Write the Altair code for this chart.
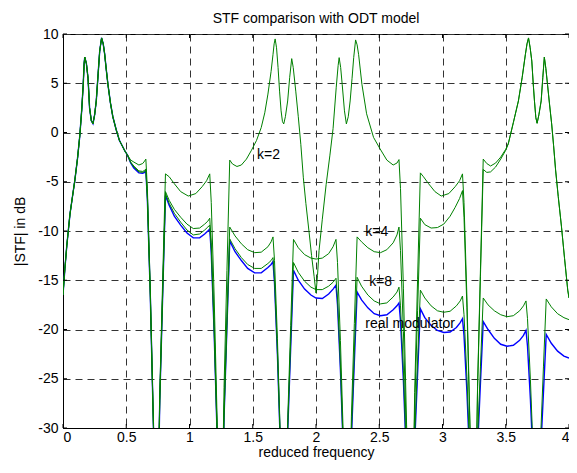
import altair as alt
import pandas as pd

# ---- data ----
head = [(0.0, -16.5), (0.015, -13.8), (0.03, -11.5), (0.055, -8.3), (0.075, -6.5), (0.094, -4.8),
        (0.115, -2.6), (0.133, -0.3), (0.148, 2.3), (0.16, 4.9), (0.167, 7.0), (0.172, 7.65),
        (0.185, 7.0), (0.198, 5.5), (0.21, 2.5), (0.224, 1.2), (0.237, 0.9), (0.25, 1.8),
        (0.263, 3.2), (0.278, 6.0), (0.29, 8.25), (0.305, 9.6), (0.318, 9.0), (0.329, 8.0),
        (0.342, 6.4), (0.355, 4.9), (0.375, 3.0), (0.394, 1.6), (0.42, 0.3), (0.446, -0.8),
        (0.47, -1.4), (0.49, -1.9), (0.51, -2.3)]

k2 = [(0.535, -2.8), (0.56, -3.0), (0.6, -3.3), (0.63, -3.15), (0.645, -2.9), (0.655, -2.7),
      (0.667, -5.7), (0.69, -15.8), (0.715, -29.6), (0.74, -40), (0.748, -40), (0.765, -26.4), (0.788, -14.9), (0.81, -4.2),
      (0.84, -4.5), (0.88, -5.2), (0.93, -6.0), (0.99, -6.45), (1.05, -6.2), (1.1, -5.5), (1.135, -4.9), (1.16, -4.2),
      (1.172, -7.1), (1.195, -16.7), (1.22, -30.0), (1.245, -40), (1.256, -40), (1.273, -25.9), (1.296, -14.0), (1.318, -2.8),
      (1.34, -3.2), (1.375, -3.45), (1.41, -3.3), (1.45, -2.7), (1.49, -1.8), (1.53, -0.8), (1.567, 0.5), (1.595, 2.0),
      (1.62, 3.9), (1.645, 6.2), (1.66, 7.9), (1.669, 9.0), (1.677, 9.5), (1.688, 8.6), (1.7, 6.6), (1.712, 4.2),
      (1.724, 2.2), (1.735, 1.1), (1.745, 0.87), (1.758, 1.6), (1.776, 3.2), (1.792, 5.6), (1.808, 7.5), (1.82, 6.6),
      (1.84, 4.2), (1.86, 1.6), (1.88, -1.2), (1.9, -4.6), (1.92, -7.2), (1.946, -10.2), (1.965, -12.5), (1.985, -14.6),
      (2.0, -16.3), (2.012, -14.5), (2.024, -12.0), (2.05, -8.8), (2.08, -5.3), (2.11, -2.3), (2.135, 0.4), (2.16, 4.6),
      (2.175, 6.8), (2.183, 7.6), (2.195, 6.6), (2.207, 4.9), (2.225, 2.2), (2.24, 0.87), (2.255, 1.6), (2.27, 3.2),
      (2.285, 5.5), (2.298, 7.6), (2.313, 9.4), (2.325, 8.9), (2.337, 7.9), (2.363, 4.9), (2.4, 1.9), (2.455, -0.5),
      (2.506, -1.65), (2.56, -2.8), (2.61, -3.3), (2.64, -3.1), (2.656, -2.75),
      (2.668, -5.7), (2.691, -15.8), (2.716, -29.6), (2.741, -40), (2.763, -40), (2.78, -26.4), (2.803, -14.9), (2.825, -4.1),
      (2.85, -4.5), (2.89, -5.2), (2.94, -6.0), (2.99, -6.45), (3.05, -6.2), (3.1, -5.5), (3.135, -4.9), (3.158, -4.2),
      (3.17, -7.1), (3.193, -16.7), (3.218, -30.0), (3.243, -40), (3.26, -40), (3.277, -25.8), (3.3, -13.9), (3.322, -2.7),
      (3.35, -3.15), (3.38, -3.4), (3.42, -3.1), (3.46, -2.5), (3.5, -1.7), (3.52, -1.15), (3.56, 1.0), (3.6, 3.2),
      (3.63, 5.6), (3.655, 7.9), (3.668, 9.0), (3.68, 9.6), (3.693, 8.6), (3.706, 7.25), (3.717, 5.0), (3.727, 3.2),
      (3.738, 1.5), (3.748, 0.94), (3.762, 1.8), (3.78, 3.2), (3.793, 5.6), (3.805, 7.65), (3.817, 6.5), (3.83, 4.9),
      (3.845, 3.0), (3.863, 0.87), (3.878, -1.3), (3.894, -3.8), (3.915, -6.5), (3.94, -9.5), (3.965, -12.8),
      (3.99, -16.0), (4.0, -16.8)]

k4 = [(0.535, -3.0), (0.56, -3.4), (0.6, -3.9), (0.63, -3.95), (0.645, -3.85), (0.655, -3.7),
      (0.667, -6.6), (0.69, -16.4), (0.715, -29.8), (0.74, -40), (0.748, -40), (0.765, -27.1), (0.788, -16.2), (0.81, -6.0),
      (0.84, -6.9), (0.88, -7.8), (0.93, -8.6), (0.98, -9.3), (1.03, -9.75), (1.08, -9.7), (1.12, -9.3), (1.145, -9.0), (1.16, -8.7),
      (1.172, -11.2), (1.195, -19.7), (1.22, -31.2), (1.245, -40), (1.256, -40), (1.273, -28.4), (1.296, -18.7), (1.318, -9.6),
      (1.36, -10.5), (1.41, -11.3), (1.46, -11.9), (1.515, -12.2), (1.567, -12.15), (1.62, -11.6), (1.645, -11.1), (1.66, -10.6),
      (1.672, -13.0), (1.695, -20.9), (1.72, -31.8), (1.745, -40), (1.76, -40), (1.777, -28.9), (1.8, -19.6), (1.822, -10.85),
      (1.86, -11.7), (1.91, -12.4), (1.96, -12.75), (2.0, -12.85), (2.05, -12.75), (2.1, -12.3), (2.135, -11.6), (2.158, -10.85),
      (2.17, -13.2), (2.193, -21.1), (2.218, -31.8), (2.243, -40), (2.263, -40), (2.28, -28.8), (2.303, -19.4), (2.325, -10.6),
      (2.36, -11.1), (2.41, -11.7), (2.46, -12.1), (2.51, -12.2), (2.56, -11.9), (2.61, -11.2), (2.64, -10.4), (2.656, -9.6),
      (2.668, -12.0), (2.691, -20.2), (2.716, -31.5), (2.741, -40), (2.763, -40), (2.78, -28.1), (2.803, -18.1), (2.825, -8.7),
      (2.86, -9.35), (2.91, -9.7), (2.96, -9.65), (3.01, -9.3), (3.06, -8.5), (3.1, -7.6), (3.135, -6.7), (3.158, -5.9),
      (3.17, -8.6), (3.193, -17.8), (3.218, -30.5), (3.243, -40), (3.26, -40), (3.277, -26.2), (3.3, -14.6), (3.322, -3.75),
      (3.35, -4.05), (3.38, -4.0), (3.42, -3.5), (3.46, -2.7), (3.5, -1.8), (3.52, -1.15), (3.56, 1.0), (3.6, 3.2),
      (3.63, 5.6), (3.655, 7.9), (3.668, 9.0), (3.68, 9.6), (3.693, 8.6), (3.706, 7.25), (3.717, 5.0), (3.727, 3.2),
      (3.738, 1.5), (3.748, 0.94), (3.762, 1.8), (3.78, 3.2), (3.793, 5.6), (3.805, 7.65), (3.817, 6.5), (3.83, 4.9),
      (3.845, 3.0), (3.863, 0.87), (3.878, -1.3), (3.894, -3.8), (3.915, -6.5), (3.94, -9.5), (3.965, -12.8),
      (3.99, -16.0), (4.0, -16.8)]

k8 = [(0.535, -3.05), (0.56, -3.5), (0.6, -4.0), (0.63, -4.05), (0.645, -3.95), (0.655, -3.8),
      (0.667, -6.7), (0.69, -16.5), (0.715, -29.9), (0.74, -40), (0.748, -40), (0.765, -27.2), (0.788, -16.3), (0.81, -6.2),
      (0.84, -7.2), (0.88, -8.2), (0.93, -9.1), (0.98, -9.9), (1.03, -10.4), (1.08, -10.3), (1.12, -9.9), (1.145, -9.6), (1.16, -9.4),
      (1.172, -11.8), (1.195, -20.1), (1.22, -31.4), (1.245, -40), (1.256, -40), (1.273, -28.9), (1.296, -19.6), (1.318, -10.8),
      (1.36, -11.8), (1.41, -12.7), (1.46, -13.4), (1.515, -13.8), (1.567, -13.8), (1.62, -13.3), (1.645, -13.0), (1.66, -12.7),
      (1.672, -14.9), (1.695, -22.3), (1.72, -32.4), (1.745, -40), (1.76, -40), (1.777, -29.8), (1.8, -21.2), (1.822, -13.2),
      (1.86, -14.2), (1.91, -15.1), (1.96, -15.7), (2.0, -15.95), (2.05, -15.95), (2.1, -15.6), (2.135, -15.2), (2.158, -14.8),
      (2.17, -16.8), (2.193, -23.6), (2.218, -33.0), (2.243, -40), (2.263, -40), (2.28, -30.4), (2.303, -22.3), (2.325, -14.7),
      (2.36, -15.6), (2.41, -16.5), (2.46, -17.1), (2.51, -17.4), (2.56, -17.3), (2.61, -16.7), (2.64, -16.2), (2.656, -15.7),
      (2.668, -17.6), (2.691, -24.2), (2.716, -33.2), (2.741, -40), (2.763, -40), (2.78, -30.9), (2.803, -23.2), (2.825, -16.0),
      (2.86, -16.8), (2.91, -17.6), (2.96, -18.1), (3.01, -18.25), (3.06, -18.15), (3.11, -17.6), (3.14, -17.1), (3.158, -16.6),
      (3.17, -18.5), (3.193, -24.8), (3.218, -33.4), (3.243, -40), (3.26, -40), (3.277, -31.2), (3.3, -23.8), (3.322, -16.8),
      (3.36, -17.5), (3.41, -18.1), (3.46, -18.5), (3.51, -18.7), (3.56, -18.6), (3.61, -18.1), (3.64, -17.6), (3.66, -17.1),
      (3.672, -18.9), (3.695, -25.1), (3.72, -33.6), (3.745, -40), (3.758, -40), (3.775, -31.2), (3.798, -23.8), (3.82, -16.9),
      (3.86, -17.7), (3.91, -18.4), (3.96, -18.8), (4.0, -19.0)]

real = [(0.535, -3.1), (0.56, -3.6), (0.6, -4.1), (0.63, -4.15), (0.645, -4.05), (0.655, -3.9),
        (0.667, -6.8), (0.69, -16.5), (0.715, -29.9), (0.74, -40), (0.748, -40), (0.765, -27.2), (0.788, -16.5), (0.81, -6.4),
        (0.84, -7.4), (0.88, -8.5), (0.93, -9.4), (0.98, -10.2), (1.03, -10.7), (1.08, -10.7), (1.12, -10.3), (1.145, -10.0), (1.16, -9.8),
        (1.172, -12.2), (1.195, -20.4), (1.22, -31.5), (1.245, -40), (1.256, -40), (1.273, -29.0), (1.296, -19.7), (1.318, -11.0),
        (1.36, -12.1), (1.41, -13.0), (1.46, -13.8), (1.515, -14.25), (1.567, -14.25), (1.62, -13.7), (1.645, -13.4), (1.66, -13.1),
        (1.672, -15.3), (1.695, -22.5), (1.72, -32.5), (1.745, -40), (1.76, -40), (1.777, -30.1), (1.8, -21.8), (1.822, -14.0),
        (1.86, -15.0), (1.91, -15.9), (1.96, -16.5), (2.0, -16.8), (2.05, -16.85), (2.1, -16.4), (2.135, -15.9), (2.158, -15.5),
        (2.17, -17.5), (2.193, -24.1), (2.218, -33.1), (2.243, -40), (2.263, -40), (2.28, -31.0), (2.303, -23.3), (2.325, -16.2),
        (2.36, -17.0), (2.41, -17.8), (2.46, -18.4), (2.51, -18.6), (2.56, -18.5), (2.61, -18.0), (2.64, -17.6), (2.656, -17.3),
        (2.668, -19.1), (2.691, -25.2), (2.716, -33.6), (2.741, -40), (2.763, -40), (2.78, -31.6), (2.803, -24.5), (2.825, -17.9),
        (2.86, -18.8), (2.91, -19.6), (2.96, -20.1), (3.01, -20.3), (3.06, -20.25), (3.11, -19.8), (3.14, -19.3), (3.158, -18.9),
        (3.17, -20.6), (3.193, -26.3), (3.218, -34.1), (3.243, -40), (3.26, -40), (3.277, -32.1), (3.3, -25.4), (3.322, -19.2),
        (3.36, -20.0), (3.41, -20.9), (3.46, -21.5), (3.51, -21.7), (3.56, -21.6), (3.61, -21.1), (3.64, -20.6), (3.66, -20.1),
        (3.672, -21.7), (3.695, -27.1), (3.72, -34.4), (3.745, -40), (3.758, -40), (3.775, -32.6), (3.798, -26.4), (3.82, -20.5),
        (3.86, -21.4), (3.91, -22.2), (3.96, -22.7), (4.0, -22.9)]

label_text = ["k=2", "k=4", "k=8", "real modulator"]
label_x = [1.534, 2.39, 2.42, 2.39]
label_y = [-2.65, -10.5, -15.6, -19.8]

x_ticks = [0, 0.5, 1, 1.5, 2, 2.5, 3, 3.5, 4]
y_ticks = [-30, -25, -20, -15, -10, -5, 0, 5, 10]

# ---- build tables ----
rows = []
for name, pts in [("real", real), ("k8", k8), ("k4", k4), ("k2", k2)]:
    for i, (x, y) in enumerate(head + pts):
        rows.append({"series": name, "i": i, "x": x, "y": y})
df = pd.DataFrame(rows)
labels = pd.DataFrame({"x": label_x, "y": label_y, "t": label_text})
xt = pd.DataFrame({"x": x_ticks})
yt = pd.DataFrame({"y": y_ticks})

W, H = 506, 394
FONT = "Liberation Sans"
FS = 14

xscale = alt.Scale(domain=[0, 4], nice=False, zero=False)
yscale = alt.Scale(domain=[-30, 10], nice=False, zero=False)
common_axis = dict(grid=True, gridDash=[7, 5], gridColor="#333333", gridWidth=1,
                   ticks=False, domainColor="black",
                   labelFont=FONT, labelFontSize=FS, labelColor="black",
                   titleFont=FONT, titleFontSize=FS, titleFontWeight="normal", titleColor="black",
                   titleBaseline="alphabetic", titleAnchor="middle")
xaxis = alt.Axis(values=x_ticks, labelExpr="datum.value + ''", title="reduced frequency",
                 labelPadding=2, titleY=28, titleX=W / 2, **common_axis)
yaxis = alt.Axis(values=y_ticks, labelExpr="datum.value + ''", title="|STF| in dB",
                 labelPadding=5, titleX=-39, titleY=H / 2, titleAngle=-90, **common_axis)

X = alt.X("x:Q", scale=xscale, axis=xaxis)
Y = alt.Y("y:Q", scale=yscale, axis=yaxis)

blue = alt.Chart(df).transform_filter(alt.datum.series == "real").mark_line(
    clip=True, color="#0000ff", strokeWidth=1.4).encode(x=X, y=Y, order="i:Q")
green = alt.Chart(df).transform_filter(alt.datum.series != "real").mark_line(
    clip=True, color="#008000", strokeWidth=1).encode(x=X, y=Y, detail="series:N", order="i:Q")

txt = alt.Chart(labels).mark_text(align="left", baseline="alphabetic", font=FONT,
                                  fontSize=FS, color="black").encode(x=X, y=Y, text="t:N")

tick_bot = alt.Chart(xt).mark_rule(color="black").encode(x=X, y=alt.value(H), y2=alt.value(H - 4))
tick_top = alt.Chart(xt).mark_rule(color="black").encode(x=X, y=alt.value(0), y2=alt.value(4))
tick_l = alt.Chart(yt).mark_rule(color="black").encode(y=Y, x=alt.value(0), x2=alt.value(4))
tick_r = alt.Chart(yt).mark_rule(color="black").encode(y=Y, x=alt.value(W), x2=alt.value(W - 4))

chart = alt.layer(blue, green, txt, tick_bot, tick_top, tick_l, tick_r).properties(
    width=W, height=H,
    background="white",
    title=alt.TitleParams("STF comparison with ODT model", font=FONT, fontSize=FS,
                          fontWeight="normal", color="black", anchor="middle", offset=1),
    autosize=alt.AutoSizeParams(type="none"),
    padding={"left": 55, "top": 26, "right": 0, "bottom": 32},
).configure_view(stroke="black", strokeWidth=1)

chart.save("out.html", embed_options={"renderer": "svg", "actions": False})
